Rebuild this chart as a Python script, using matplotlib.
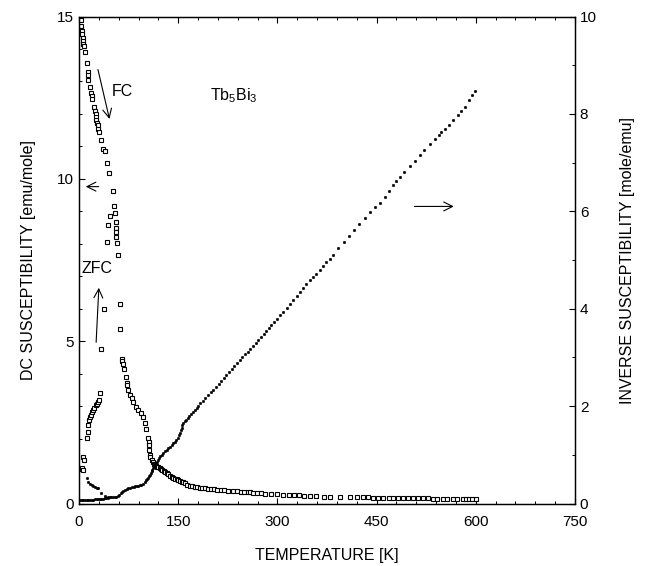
import matplotlib
matplotlib.use("Agg")
import matplotlib.pyplot as plt
from matplotlib.ticker import MultipleLocator

plt.rcParams['font.family'] = ['Liberation Sans', 'DejaVu Sans']
plt.rcParams['mathtext.default'] = 'regular'

# ---- data ----
# FC branch (low T, decreasing from 15)
fc_T = [1, 2, 3, 3, 4, 5, 5.5, 6, 6.5, 7,
        9, 12.5, 13, 13.5, 14, 16.5, 18, 19, 19.5, 22,
        24, 25, 25.7, 26, 27, 28, 29, 30, 34, 37,
        39, 43, 45, 51]
fc_chi = [15.0, 14.95, 14.9, 14.7, 14.55, 14.45, 14.35, 14.25, 14.15, 14.1,
          13.9, 13.56, 13.3, 13.2, 13.05, 12.82, 12.65, 12.55, 12.45, 12.22,
          12.1, 12.0, 11.9, 11.8, 11.72, 11.65, 11.55, 11.45, 11.2, 10.92,
          10.85, 10.48, 10.17, 9.63]

# ZFC branch (low T, rising)
zfc_T = [5, 6.5, 6.5, 7.5, 11.6, 13, 14, 15.6, 17, 18,
         20, 21.6, 23, 25, 26.5, 28, 30, 31.8, 34, 37.8,
         42.8, 44.3, 47]
zfc_chi = [1.08, 1.03, 1.44, 1.34, 2.01, 2.21, 2.42, 2.57, 2.65, 2.73,
           2.82, 2.88, 2.95, 3.03, 3.08, 3.13, 3.2, 3.41, 4.75, 5.98,
           8.06, 8.58, 8.86]

# merged FC/ZFC susceptibility above ~50 K
hi_T = [53, 54.5, 55.7, 56, 56.3, 56.6, 57, 59, 61.7, 62,
        64.5, 65, 66.6, 68, 70.6, 72, 73, 74.6, 77, 79.6,
        82, 85.7, 89.7, 93, 97, 100, 102, 104.8, 105.5, 106,
        106.5, 107, 108,
        110, 112, 113.5, 115, 116.5, 118, 120, 122.5, 124, 126,
        128, 130, 132.5, 135, 137.5, 140, 142.5, 145, 147.5, 150,
        152.5, 155, 157.5, 160, 164, 168, 171.5, 175, 179, 183,
        186.5, 190, 195, 200, 204, 208, 214, 220, 226, 233,
        239, 245, 250, 255, 259, 263, 269, 275, 282, 290,
        299, 309, 317, 325, 332, 340, 350, 359, 370, 380,
        395, 410, 420, 430, 437, 445, 452, 460, 468, 475,
        482, 490, 497, 505, 512, 520, 527, 535, 542, 550,
        557, 565, 572, 580, 585, 590, 595, 601]
hi_chi = [9.16, 8.94, 8.68, 8.48, 8.35, 8.22, 8.02, 7.65, 6.14, 5.36,
          4.45, 4.39, 4.30, 4.13, 3.90, 3.72, 3.65, 3.50, 3.34, 3.25,
          3.13, 2.98, 2.88, 2.78, 2.67, 2.49, 2.28, 2.01, 1.90, 1.80,
          1.65, 1.50, 1.42,
          1.34, 1.27, 1.23, 1.19, 1.16, 1.13, 1.11, 1.08, 1.06, 1.03,
          1.01, 0.98, 0.94, 0.90, 0.86, 0.83, 0.80, 0.77, 0.74, 0.72,
          0.70, 0.67, 0.65, 0.62, 0.58, 0.55, 0.53, 0.52, 0.50, 0.49,
          0.48, 0.47, 0.46, 0.45, 0.44, 0.43, 0.42, 0.41, 0.40, 0.38,
          0.37, 0.36, 0.355, 0.35, 0.34, 0.33, 0.32, 0.31, 0.305, 0.30,
          0.285, 0.27, 0.265, 0.26, 0.25, 0.24, 0.23, 0.22, 0.215, 0.21,
          0.205, 0.20, 0.195, 0.19, 0.185, 0.18, 0.18, 0.18, 0.175, 0.17,
          0.17, 0.17, 0.165, 0.16, 0.16, 0.16, 0.155, 0.15, 0.15, 0.15,
          0.15, 0.15, 0.145, 0.14, 0.14, 0.14, 0.14, 0.14]

# inverse susceptibility (right axis)
inv_T = [1.5, 4, 6.5, 9, 11.5, 14, 16.5, 19, 21.5, 24,
         26.5, 29, 31.5, 34, 36.5, 39, 41.5, 44, 46.5, 49,
         51.5, 54, 56.5, 59, 61, 63, 65, 67, 69.6, 72,
         74.5, 77, 79.6, 82.5, 85, 87.5, 89.7, 92, 94.5, 97,
         100, 102, 103.5, 104.5, 106, 107, 108.5, 110, 111, 112.4,
         114, 115, 116.5, 117.5, 119, 121, 123, 125, 127.5, 130,
         132.5, 135, 137.5, 140, 142.5, 145, 147, 149, 151, 152.7,
         154, 155, 156.5, 157.7, 160, 162, 164.5, 167, 170, 172.7,
         175.5, 178, 180.5,
         183, 187, 191, 195, 199, 203, 207, 211, 215, 219,
         223, 227, 231, 235, 239, 243, 247, 251, 255, 259,
         263, 267, 271, 275, 279, 283, 287, 291, 295, 299,
         304, 309, 314, 319, 324, 329, 334, 339, 344, 349,
         354, 359, 364, 369, 374, 379, 384,
         392, 400, 408, 416, 424, 432, 440, 448, 455, 462,
         468, 475, 480, 485, 492, 500, 508, 515, 522, 531,
         538, 544, 548, 553, 560, 566, 573, 578, 584, 590,
         595, 599]
inv_val = [0.07, 0.07, 0.07, 0.075, 0.075, 0.075, 0.08, 0.08, 0.08, 0.085,
           0.085, 0.09, 0.09, 0.10, 0.10, 0.11, 0.115, 0.12, 0.13, 0.14,
           0.14, 0.14, 0.14, 0.15, 0.18, 0.21, 0.24, 0.26, 0.28, 0.30,
           0.31, 0.32, 0.33, 0.34, 0.35, 0.355, 0.36, 0.37, 0.38, 0.40,
           0.44, 0.48, 0.51, 0.53, 0.56, 0.58, 0.62, 0.66, 0.69, 0.72,
           0.76, 0.79, 0.83, 0.86, 0.89, 0.93, 0.97, 1.00, 1.04, 1.07,
           1.10, 1.13, 1.17, 1.20, 1.24, 1.27, 1.31, 1.35, 1.40, 1.44,
           1.50, 1.55, 1.61, 1.66, 1.69, 1.72, 1.76, 1.80, 1.84, 1.87,
           1.92, 1.97, 2.01,
           2.06, 2.11, 2.17, 2.22, 2.28, 2.34, 2.40, 2.45, 2.51, 2.57,
           2.63, 2.69, 2.76, 2.82, 2.88, 2.94, 3.00, 3.06, 3.12, 3.18,
           3.24, 3.30, 3.36, 3.42, 3.48, 3.54, 3.60, 3.66, 3.72, 3.79,
           3.87, 3.94, 4.02, 4.10, 4.18, 4.26, 4.34, 4.42, 4.50, 4.58,
           4.65, 4.72, 4.80, 4.87, 4.95, 5.02, 5.10,
           5.24, 5.36, 5.49, 5.61, 5.73, 5.86, 5.98, 6.09, 6.17, 6.30,
           6.42, 6.55, 6.63, 6.70, 6.80, 6.92, 7.04, 7.15, 7.25, 7.38,
           7.48, 7.56, 7.63, 7.68, 7.78, 7.87, 7.98, 8.05, 8.14, 8.28,
           8.38, 8.46]

# inverse of the ZFC branch at low T
invz_T = [11.6, 14, 16.5, 19, 21.5, 24, 26.5, 29, 34, 39, 44]
invz_val = [0.52, 0.45, 0.41, 0.38, 0.36, 0.34, 0.32, 0.31, 0.21, 0.15, 0.14]

x_ticks = [0, 150, 300, 450, 600, 750]
yl_ticks = [0, 5, 10, 15]
yr_ticks = [0, 2, 4, 6, 8, 10]

# ---- figure ----
fig = plt.figure(figsize=(6.48, 5.66), dpi=100)
ax = fig.add_axes([79/648, 1-503.5/566, (575-79)/648, (503.5-16.5)/566])
ax2 = ax.twinx()

sq = dict(linestyle='none', marker='s', ms=2.4, mfc='white', mec='black', mew=0.8)
dot = dict(linestyle='none', marker='o', ms=1.9, mfc='black', mec='black', mew=0.3)

ax.plot(fc_T, fc_chi, **sq)
ax.plot(zfc_T, zfc_chi, **sq)
ax.plot(hi_T, hi_chi, **sq)
ax2.plot(inv_T, inv_val, **dot)
ax2.plot(invz_T, invz_val, **dot)

ax.set_xlim(0, 750)
ax.set_ylim(0, 15)
ax2.set_ylim(0, 10)
ax.set_xticks(x_ticks)
ax.set_yticks(yl_ticks)
ax2.set_yticks(yr_ticks)
ax.xaxis.set_minor_locator(MultipleLocator(30))
ax.yaxis.set_minor_locator(MultipleLocator(1))
ax2.yaxis.set_minor_locator(MultipleLocator(1))

for a in (ax, ax2):
    a.tick_params(which='major', direction='in', length=4, width=0.8, labelsize=11)
    a.tick_params(which='minor', direction='in', length=2.5, width=0.7)
    for s in a.spines.values():
        s.set_linewidth(0.9)
ax.tick_params(axis='x', top=True, which='both')
ax.tick_params(axis='x', pad=8)

ax.set_xlabel('TEMPERATURE [K]', fontsize=11.5, labelpad=14)
ax.set_ylabel('DC SUSCEPTIBILITY [emu/mole]', fontsize=11.5, labelpad=15)
ax2.set_ylabel('INVERSE SUSCEPTIBILITY [mole/emu]', fontsize=11.5, labelpad=17)

ax.text(198, 12.43, r'Tb$_{5}$Bi$_{3}$', fontsize=11.5, va='baseline', ha='left')
ax.text(49, 12.7, 'FC', fontsize=11.5, va='center', ha='left')
ax.text(4.5, 7.25, 'ZFC', fontsize=11.5, va='center', ha='left')

arw = dict(arrowstyle='->', lw=0.8, color='black', mutation_scale=16)
ax.annotate('', xy=(47, 11.76), xytext=(27.7, 13.45), arrowprops=arw)
ax.annotate('', xy=(30.2, 6.73), xytext=(25.7, 4.88), arrowprops=arw)
ax.annotate('', xy=(6, 9.76), xytext=(34, 9.76), arrowprops=arw)
ax2.annotate('', xy=(571, 6.1), xytext=(503, 6.1), arrowprops=arw)

fig.savefig('out.png', dpi=100)
